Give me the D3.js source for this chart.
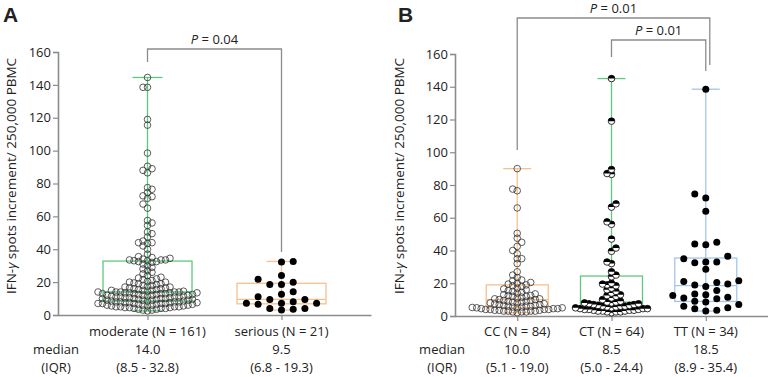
<!DOCTYPE html>
<html>
<head>
<meta charset="utf-8">
<script src="https://cdn.jsdelivr.net/npm/d3@7/dist/d3.min.js"></script>
<style>
  body { margin: 0; background: #fff; }
  text { font-family: "Open Sans", "Noto Sans", sans-serif; fill: #222; }
</style>
</head>
<body>
<script>
// Chart size
var w = 768;
var h = 377;

// Panel A data
var groupsA = ["moderate (N = 161)", "serious (N = 21)"];
var moderate = [
    2.5, 3, 3, 3.5, 3.5, 4, 4, 4, 4.5, 4.5, 4.5, 5, 5, 5, 5, 5.5, 5.5, 5.5, 6, 6,
    6, 6, 6.5, 6.5, 6.5, 7, 7, 7, 7, 7, 7.5, 7.5, 7.5, 7.5, 8, 8, 8, 8, 8.5, 8.5,
    8.5, 9, 9, 9, 9, 9.5, 9.5, 9.5, 10, 10, 10, 10, 10.5, 10.5, 10.5, 11, 11, 11, 11, 11.5,
    11.5, 11.5, 12, 12, 12, 12, 12.5, 12.5, 12.5, 13, 13, 13, 13, 13.5, 13.5, 13.5, 13.5, 14, 14, 14,
    14,
    14, 14.5, 14.5, 15, 15, 15, 15.5, 15.5, 16, 16, 16.5, 16.5, 17, 17, 17.5, 18, 18, 18.5, 19, 19,
    19.5, 20, 20, 20.5, 21, 21.5, 22, 22.5, 23, 24, 25, 26, 27, 28, 29, 30, 31, 32, 32.5, 32.5,
    33, 33, 33.5, 33.5, 33.5, 34, 34.5, 35, 35.5, 37, 40, 42, 43.5, 44, 44, 45, 47.5, 49.5, 50.5, 54.5,
    56, 57.5, 65, 67.5, 71, 72, 72.5, 74.5, 76.5, 77.5, 86.5, 88, 89, 90.5, 98.5, 115.5, 119, 138.5, 138.5, 144.5
];
var serious = [3, 3.5, 4, 4, 6.6, 7.1, 7.1, 7.1, 8, 9.5, 9.5, 11.1, 12.6, 14.2, 18.6, 18.6, 20, 21.7, 24.1, 32.2, 32.6];
var medianA = [14.0, 9.5];
var q1A = [8.5, 6.8];
var q3A = [32.8, 19.3];
var pA = ["0.04"];

// Panel B data
var groupsB = ["CC (N = 84)", "CT (N = 64)", "TT (N = 34)"];
var cc = [
    2, 2.5, 2.5, 2.5, 3, 3, 3, 3, 3.5, 3.5, 3.5, 4, 4, 4, 4, 4.5, 4.5, 4.5, 5, 5, 5,
    5.2, 5.5, 5.5, 6, 6, 6, 6.5, 6.5, 7, 7, 7.5, 7.5, 8, 8, 8.5, 8.5, 9, 9, 9.5, 9.5,
    10, 10,
    10.5, 10.5, 11, 11.5, 12, 12, 12.5, 12.5, 13, 13.5, 14, 14.5, 15, 15.5, 16, 16.5, 17, 18, 18.5, 19,
    19.5, 20, 20.5, 21.5, 22, 23.5, 25, 27, 32, 35, 35, 38, 40, 42.5, 45, 47.5, 50.5, 66, 76.5, 77.5, 90
];
var ct = [
    2, 2.5, 2.5, 2.5, 3, 3, 3, 3.5, 3.5, 3.5, 4, 4, 4, 4.5, 4.5, 4.5,
    5, 5, 5.5, 5.5, 6, 6, 6, 6.5, 6.5, 7, 7, 7.5, 7.5, 8, 8,
    8.5, 8.5,
    9, 10, 11, 12, 12.5, 13, 14, 15, 16, 17, 18.5, 19, 19.5, 20, 24,
    25, 27, 32, 33, 39.5, 41.5, 47, 56, 57.5, 66.5, 68.5, 86.5, 87, 89.5, 119, 145
];
var tt = [
    3, 3.5, 4.5, 5, 6, 7, 8.5, 9, 10.5, 11, 11.5, 12.5, 13, 13.5, 15.5, 18,
    19, 19.5, 20.5, 21, 21.5, 28.5, 32.5, 33, 33, 35, 36.5, 43.5, 44, 45, 64, 72, 74.5, 138.5
];
var medianB = [10.0, 8.5, 18.5];
var q1B = [5.1, 5.0, 8.9];
var q3B = [19.0, 24.4, 35.4];
var pB = ["0.01", "0.01"];

var yTicks = [0, 20, 40, 60, 80, 100, 120, 140, 160];

var svg = d3.select("body")
    .append("svg")
    .attr("width", w)
    .attr("height", h);

var axisColor = "#8c8c8c";

// Column beeswarm: keep y, move each point to the nearest free column,
// choosing the less crowded side when both sides are free
function swarm(values, y, cx, step, minDist) {
    var placed = [];
    var nLeft = 0, nRight = 0;
    values.slice().sort(function(a, b) { return a - b; }).forEach(function(v) {
        var py = y(v);
        var near = placed.filter(function(p) { return Math.abs(p.y - py) < minDist; });
        function free(x) {
            return near.every(function(p) {
                var dx = p.x - x, dy = p.y - py;
                return dx * dx + dy * dy >= minDist * minDist - 0.01;
            });
        }
        var best = cx;
        for (var k = 0; k <= 30; k++) {
            var a = cx + k * step, b = cx - k * step;
            var fa = free(a), fb = free(b);
            if (fa && fb) { best = (k === 0 || nRight <= nLeft) ? (nRight <= nLeft ? a : b) : b; break; }
            if (fa) { best = a; break; }
            if (fb) { best = b; break; }
        }
        if (best > cx) nRight++;
        if (best < cx) nLeft++;
        placed.push({ x: best, y: py, v: v });
    });
    return placed;
}

function drawPanel(opt) {
    var g = svg.append("g");
    var x = d3.scalePoint()
        .domain(opt.groups)
        .range([opt.left, opt.right])
        .padding(opt.pad);
    var y = d3.scaleLinear()
        .domain([0, 160])
        .range([opt.bottom, opt.top]);

    // y axis
    var yAxis = d3.axisLeft(y).tickValues(yTicks).tickSize(5).tickPadding(2);
    var ya = g.append("g")
        .attr("transform", "translate(" + opt.left + ",0)")
        .call(yAxis);
    ya.select(".domain").attr("stroke", axisColor).attr("stroke-width", 1.6);
    ya.selectAll(".tick line").attr("stroke", axisColor).attr("stroke-width", 1.2);
    ya.selectAll(".tick text").attr("font-size", "13px").attr("fill", "#222")
        .style("font-family", "'Open Sans', sans-serif");

    // x axis
    var xAxis = d3.axisBottom(x).tickSize(5).tickSizeOuter(0).tickFormat("");
    var xa = g.append("g")
        .attr("transform", "translate(0," + opt.bottom + ")")
        .call(xAxis);
    xa.select(".domain").attr("stroke", axisColor).attr("stroke-width", 1.6);
    xa.selectAll(".tick line").attr("stroke", axisColor).attr("stroke-width", 1.2);

    // y axis title
    var yt = g.append("text")
        .attr("transform", "translate(" + opt.titleX + ",176) rotate(-90)")
        .attr("text-anchor", "middle")
        .attr("font-size", "13.5px");
    yt.append("tspan").text("IFN-");
    yt.append("tspan").attr("font-style", "italic").text("γ");
    yt.append("tspan").text(" spots increment/ 250,000 PBMC");

    // panel letter
    g.append("text")
        .attr("x", opt.letterX)
        .attr("y", 22)
        .attr("font-size", "21px")
        .attr("font-weight", "bold")
        .style("font-family", "'Liberation Sans', Arial, sans-serif")
        .attr("fill", "#000")
        .text(opt.letter);

    // boxes and whiskers
    opt.groups.forEach(function(name, i) {
        var cx = x(name);
        var ext = d3.extent(opt.data[i]);
        var col = opt.colors[i];
        var bw = opt.boxW, cw = opt.capW;
        g.append("line").attr("x1", cx).attr("x2", cx)
            .attr("y1", y(ext[0])).attr("y2", y(ext[1]))
            .attr("stroke", col).attr("stroke-width", 1.3);
        [ext[0], ext[1]].forEach(function(v) {
            g.append("line").attr("x1", cx - cw / 2).attr("x2", cx + cw / 2)
                .attr("y1", y(v)).attr("y2", y(v))
                .attr("stroke", col).attr("stroke-width", 1.3);
        });
        g.append("rect")
            .attr("x", cx - bw / 2).attr("width", bw)
            .attr("y", y(opt.q3[i])).attr("height", y(opt.q1[i]) - y(opt.q3[i]))
            .attr("fill", "none").attr("stroke", col).attr("stroke-width", 1.3);
        g.append("line").attr("x1", cx - bw / 2).attr("x2", cx + bw / 2)
            .attr("y1", y(opt.median[i])).attr("y2", y(opt.median[i]))
            .attr("stroke", col).attr("stroke-width", 1.3);
    });

    // points
    var r = 3.3;
    opt.groups.forEach(function(name, i) {
        var pts = swarm(opt.data[i], y, x(name), opt.steps[i], opt.dists[i]);
        var style = opt.marks[i];
        var pg = g.append("g");
        if (style === "open") {
            pg.selectAll("circle").data(pts).enter().append("circle")
                .attr("cx", function(d) { return d.x; })
                .attr("cy", function(d) { return d.y; })
                .attr("r", r)
                .attr("fill", "none")
                .attr("stroke", "#333")
                .attr("stroke-width", 0.8);
        } else if (style === "filled") {
            pg.selectAll("circle").data(pts).enter().append("circle")
                .attr("cx", function(d) { return d.x; })
                .attr("cy", function(d) { return d.y; })
                .attr("r", r + 0.2)
                .attr("fill", "#000");
        } else {
            // half filled: top black, bottom white
            var pgs = pg.selectAll("g").data(pts).enter().append("g")
                .attr("transform", function(d) { return "translate(" + d.x + "," + d.y + ")"; });
            pgs.append("circle").attr("r", r).attr("fill", "#fff")
                .attr("stroke", "#000").attr("stroke-width", 0.8);
            pgs.append("path")
                .attr("d", "M" + (-r) + ",0 A" + r + "," + r + " 0 0 1 " + r + ",0 Z")
                .attr("fill", "#000");
        }
    });

    // category labels + median / IQR rows
    opt.groups.forEach(function(name, i) {
        var cx = x(name);
        g.append("text").attr("x", cx).attr("y", 336).attr("text-anchor", "middle")
            .attr("font-size", "13px").text(name);
        g.append("text").attr("x", cx).attr("y", 354).attr("text-anchor", "middle")
            .attr("font-size", "13px").text(opt.median[i].toFixed(1));
        g.append("text").attr("x", cx).attr("y", 372).attr("text-anchor", "middle")
            .attr("font-size", "13px")
            .text("(" + opt.q1[i].toFixed(1) + " - " + opt.q3[i].toFixed(1) + ")");
    });
    g.append("text").attr("x", opt.rowX).attr("y", 354).attr("text-anchor", "middle")
        .attr("font-size", "13px").text("median");
    g.append("text").attr("x", opt.rowX).attr("y", 372).attr("text-anchor", "middle")
        .attr("font-size", "13px").text("(IQR)");

    // significance brackets
    opt.brackets.forEach(function(b) {
        var x1 = x(opt.groups[b.a]) + (b.dxa || 0), x2 = x(opt.groups[b.b]) + (b.dxb || 0);
        g.append("path")
            .attr("d", "M" + x1 + "," + b.ya + " V" + b.top + " H" + x2 + " V" + b.yb)
            .attr("fill", "none").attr("stroke", axisColor).attr("stroke-width", 1.3);
        var t = g.append("text").attr("x", (x1 + x2) / 2).attr("y", b.top - 5)
            .attr("text-anchor", "middle").attr("font-size", "13px");
        t.append("tspan").attr("font-style", "italic").text("P");
        t.append("tspan").text(" = " + b.p);
    });
}

drawPanel({
    groups: groupsA, data: [moderate, serious],
    median: medianA, q1: q1A, q3: q3A,
    colors: ["#5ec97c", "#f8c08c"],
    marks: ["open", "filled"],
    steps: [4.5, 11.7], dists: [4.5, 6.6],
    left: 58, right: 371, pad: 0.668, top: 52, bottom: 315,
    boxW: 89, capW: 30,
    titleX: 16, letter: "A", letterX: 3, rowX: 56,
    brackets: [{ a: 0, b: 1, top: 49, ya: 62, yb: 252, p: pA[0] }]
});

drawPanel({
    groups: groupsB, data: [cc, ct, tt],
    median: medianB, q1: q1B, q3: q3B,
    colors: ["#f8c08c", "#5ec97c", "#a3c7ea"],
    marks: ["open", "half", "filled"],
    steps: [4.5, 4.5, 11], dists: [4.5, 4.5, 6.6],
    left: 455, right: 768, pad: 0.66, top: 54, bottom: 316,
    boxW: 62, capW: 28,
    titleX: 404, letter: "B", letterX: 398, rowX: 442,
    brackets: [
        { a: 0, b: 2, top: 18, ya: 150, yb: 65, dxb: 4, p: pB[0] },
        { a: 1, b: 2, top: 40, ya: 57, yb: 71, p: pB[1] }
    ]
});
</script>
</body>
</html>
